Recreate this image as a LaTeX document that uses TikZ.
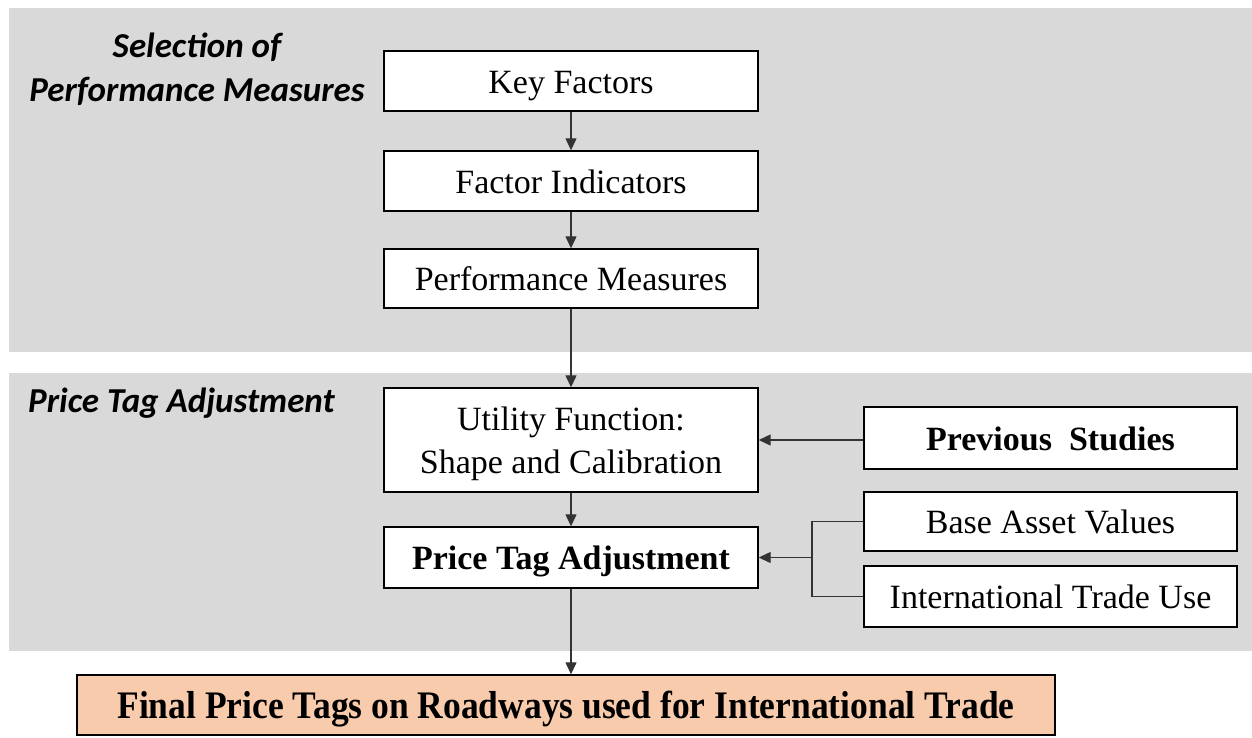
\documentclass[tikz,border=0pt]{standalone}
\usepackage{fontspec}
\setmainfont{Liberation Serif}
\newfontfamily\titlefont{Carlito}
\usetikzlibrary{arrows.meta}
\definecolor{panelgray}{HTML}{D9D9D9}
\definecolor{peach}{HTML}{F8CBAD}
\definecolor{linegray}{HTML}{333333}
\begin{document}
\begin{tikzpicture}[x=1pt,y=-1pt,
  panel/.style={fill=panelgray, draw=none},
  box/.style={draw=black, line width=1.4pt, fill=white, minimum width=374pt, minimum height=60pt,
    inner sep=0pt, align=center, font=\fontsize{34}{43}\selectfont},
  onebox/.style={box, text height=27pt, text depth=3pt},
  finalbox/.style={draw=black, line width=1.4pt, fill=peach, minimum width=978pt, minimum height=60pt,
    inner sep=0pt, text height=30pt, text depth=4pt, font=\bfseries\fontsize{39}{45}\selectfont},
  arr/.style={draw=linegray, line width=1.3pt, -{Triangle[width=11pt,length=12pt]}},
  conn/.style={draw=linegray, line width=1.3pt},
  paneltitle/.style={font=\titlefont\bfseries\itshape\fontsize{35}{44}\selectfont, align=center, inner sep=0pt}
]
\useasboundingbox (0,0) rectangle (1252,737);
% panels
\path[panel] (9,8) rectangle (1252,352);
\path[panel] (9,373) rectangle (1252,651);
% panel titles
\node[paneltitle] (t1) at (197,69) {Selection of\\Performance Measures};
\node[paneltitle, anchor=base west] (t2) at (28,412) {Price Tag Adjustment};
% main column
\node[onebox] (kf) at (571,81) {Key Factors};
\node[onebox] (fi) at (571,181) {Factor Indicators};
\node[onebox, minimum height=59pt] (pm) at (571,278.5) {Performance Measures};
\node[box, minimum height=104pt, text depth=0pt] (uf) at (571,440) {Utility Function:\\Shape and Calibration};
\node[onebox, minimum height=61pt, font=\bfseries\fontsize{34}{43}\selectfont] (pt) at (571,557.5) {Price Tag Adjustment};
% side boxes
\node[onebox, minimum width=373pt, minimum height=62pt, font=\bfseries\fontsize{34}{43}\selectfont] (ps) at (1050.5,438) {Previous\ \ Studies};
\node[onebox, minimum width=373pt, minimum height=59pt] (ba) at (1050.5,521.5) {Base Asset Values};
\node[onebox, minimum width=373pt, minimum height=61pt] (it) at (1050.5,596.5) {International Trade Use};
% final
\node[finalbox] (fp) at (566,705) {\scalebox{0.91}[1]{Final Price Tags on Roadways used for International Trade}};
% connectors
\draw[arr] (kf) -- (fi);
\draw[arr] (fi) -- (pm);
\draw[arr] (pm) -- (uf);
\draw[arr] (uf) -- (pt);
\draw[arr] (pt.south) -- (pt.south |- fp.north);
\draw[arr] (ps.west |- uf.east) -- (uf.east);
\coordinate (brk) at (812,557.5);
\draw[conn] (ba.west) -| (brk) |- (it.west);
\draw[arr] (brk) -- (pt.east);
\end{tikzpicture}
\end{document}
